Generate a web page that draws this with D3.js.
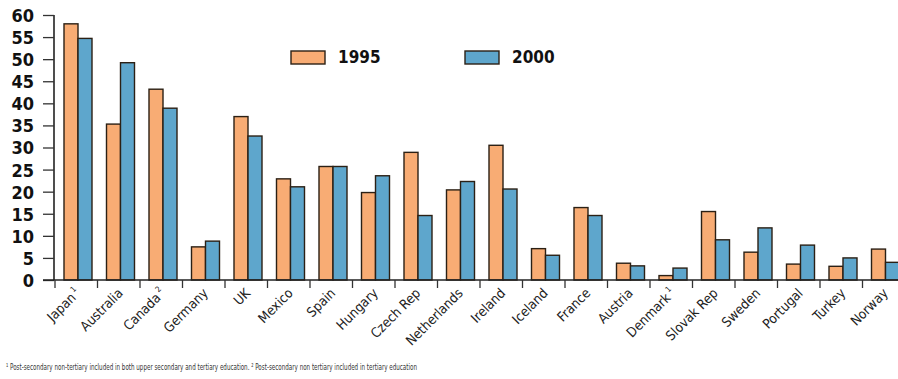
<!DOCTYPE html>
<html><head><meta charset="utf-8">
<script src="https://cdn.jsdelivr.net/npm/d3@7"></script>
<style>body{margin:0;background:#fff;}svg{display:block;}</style>
</head><body>
<svg id="chart" width="898" height="379"></svg>
<script>
const categories = ["Japan","Australia","Canada","Germany","UK","Mexico","Spain","Hungary","Czech Rep","Netherlands","Ireland","Iceland","France","Austria","Denmark","Slovak Rep","Sweden","Portugal","Turkey","Norway"];
const categorySup = ["1","","2","","","","","","","","","","","","1","","","","",""];
const values1995 = [58.0,35.3,43.2,7.5,37.0,22.9,25.7,19.8,28.9,20.4,30.5,7.1,16.4,3.8,1.0,15.5,6.3,3.6,3.1,7.0];
const values2000 = [54.7,49.2,38.9,8.8,32.6,21.1,25.7,23.6,14.6,22.3,20.6,5.6,14.6,3.2,2.7,9.1,11.8,7.9,5.0,4.0];
const seriesNames = ["1995","2000"];
const yTicks = [0,5,10,15,20,25,30,35,40,45,50,55,60];
const footnoteText = "¹ Post-secondary non-tertiary included in both upper secondary and tertiary education. ² Post-secondary non tertiary included in tertiary education";

const colors = ["#F8AC74","#5EA6CC"];
const stroke = "#2b2015";
const font = "'Liberation Sans Narrow','DejaVu Sans Condensed',sans-serif";
const svg = d3.select("#chart");

const x = d3.scaleBand().domain(categories).range([55, 905]).paddingInner(0).paddingOuter(0);
const y = d3.scaleLinear().domain([0, 60]).range([280, 15]);
const bw = 14;
const offs = [9, 9 + bw];

// bars
const series = [values1995, values2000];
series.forEach((vals, si) => {
  svg.append("g").selectAll("rect").data(categories).join("rect")
    .attr("x", (d) => x(d) + offs[si])
    .attr("y", (d, i) => y(vals[i]))
    .attr("width", bw)
    .attr("height", (d, i) => y(0) - y(vals[i]))
    .attr("fill", colors[si])
    .attr("stroke", stroke)
    .attr("stroke-width", 1.4);
});

// y axis
const yAxis = d3.axisLeft(y).tickValues(yTicks).tickSize(11).tickPadding(9).tickFormat(d3.format("d"));
const gy = svg.append("g").attr("transform", "translate(54,0)").call(yAxis);
gy.select(".domain").attr("stroke", "#222").attr("stroke-width", 1.6).attr("d", "M0,15V280");
gy.selectAll(".tick line").attr("stroke", "#333").attr("stroke-width", 1.3);
gy.selectAll(".tick text").attr("font-family", font)
  .attr("font-weight", "bold").attr("font-size", 18).attr("fill", "#111").attr("dy", "0.36em");

// x axis
const xAxis = d3.axisBottom(x).tickSize(8).tickFormat("");
const gx = svg.append("g").attr("transform", "translate(0,280)").call(xAxis);
gx.select(".domain").attr("stroke", "#222").attr("stroke-width", 1.6).attr("d", "M43,0H898");
gx.selectAll(".tick line").attr("stroke", "#333").attr("stroke-width", 1.3)
  .attr("transform", `translate(${-x.bandwidth() / 2},0)`);

// x labels
const lab = svg.append("g").selectAll("text").data(categories).join("text")
  .attr("transform", (d) => `translate(${x(d) + x.bandwidth() / 2 + 5},${294}) rotate(-45)`)
  .attr("text-anchor", "end")
  .attr("font-family", font)
  .attr("font-size", 13.5).attr("fill", "#222");
lab.each(function (d, i) {
  const t = d3.select(this);
  t.append("tspan").text(d);
  if (categorySup[i]) t.append("tspan").attr("font-size", 8).attr("dy", "-0.8em").attr("dx", "2").text(categorySup[i]);
});

// legend
const legend = svg.append("g");
const legX = [291, 465];
seriesNames.forEach((n, i) => {
  legend.append("rect").attr("x", legX[i]).attr("y", 51).attr("width", 34).attr("height", 13)
    .attr("fill", colors[i]).attr("stroke", stroke).attr("stroke-width", 1.4);
  legend.append("text").attr("x", legX[i] + 47).attr("y", 63)
    .attr("font-family", font)
    .attr("font-weight", "bold").attr("font-size", 17).attr("fill", "#111").text(n);
});

// footnote
svg.append("text").attr("x", 6).attr("y", 370)
  .attr("font-family", font)
  .attr("font-size", 9).attr("fill", "#333")
  .attr("textLength", 411).attr("lengthAdjust", "spacingAndGlyphs")
  .text(footnoteText);
</script>
</body></html>
